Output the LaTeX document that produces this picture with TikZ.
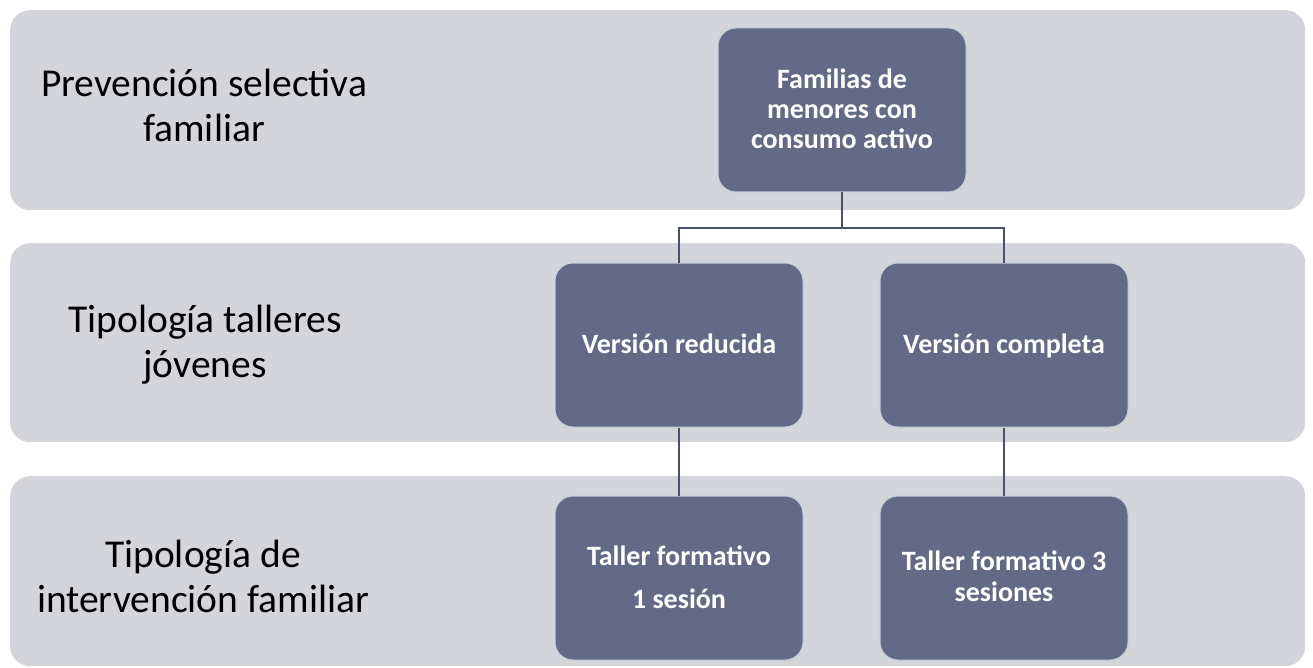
\documentclass[tikz,border=0pt]{standalone}
\usepackage{fontspec}
\setmainfont{Carlito}
\definecolor{bandgray}{RGB}{211,213,219}
\definecolor{boxfill}{RGB}{99,106,133}
\definecolor{boxedge}{RGB}{196,206,218}
\definecolor{linecol}{RGB}{74,80,104}
\begin{document}
\begin{tikzpicture}[x=1pt,y=-1pt,
  band/.style={fill=bandgray, rounded corners=20pt, minimum width=1295pt, inner sep=0pt, anchor=north west},
  lbl/.style={font=\fontsize{39.5}{45}\selectfont, align=center, text=black, inner sep=0pt},
  box/.style={draw=boxedge, line width=1pt, fill=boxfill, rounded corners=18pt, minimum width=248pt, minimum height=164pt, text=white, font=\bfseries\fontsize{28}{30}\selectfont, align=center, inner sep=0pt},
  conn/.style={draw=linecol, line width=2pt}]
\useasboundingbox (0,0) rectangle (1313,668);
\node[band, minimum height=200pt] (b1) at (10,10) {};
\node[band, minimum height=199pt] (b2) at (10,243) {};
\node[band, minimum height=190pt] (b3) at (10,476) {};
\node[lbl] (l1) at (204,110) {\strut Prevención selectiva\\familiar\strut};
\node[lbl] (l2) at (205,345.5) {\strut Tipología talleres\\jóvenes\strut};
\node[lbl] (l3) at (203,580.5) {\strut Tipología de\\intervención familiar\strut};
\node[box] (t) at (842,110) {};
\node[box, draw=none, fill=none, minimum height=0pt] (tt) at (842,112.3) {\strut Familias de\\menores con\\consumo activo\strut};
\node[box] (vr) at (679,345) {};
\node[box, draw=none, fill=none, minimum height=0pt] (vrt) at (679,347) {\strut Versión reducida\strut};
\node[box] (vc) at (1004,345) {};
\node[box, draw=none, fill=none, minimum height=0pt] (vct) at (1004,347) {\strut Versión completa\strut};
\node[box] (tf1) at (679,578) {};
\node[box, draw=none, fill=none, minimum height=0pt] (tf1t) at (679,580.5) {\strut Taller formativo\\[13pt]1 sesión\strut};
\node[box] (tf3) at (1004,578) {};
\node[box, draw=none, fill=none, minimum height=0pt] (tf3t) at (1004,580) {\strut Taller formativo 3\\[1pt]sesiones\strut};
\coordinate (j) at (842,228);
\draw[conn] (t.south) -- (j);
\draw[conn] (j) -| (vr.north);
\draw[conn] (j) -| (vc.north);
\draw[conn] (vr.south) -- (tf1.north);
\draw[conn] (vc.south) -- (tf3.north);
\end{tikzpicture}
\end{document}
